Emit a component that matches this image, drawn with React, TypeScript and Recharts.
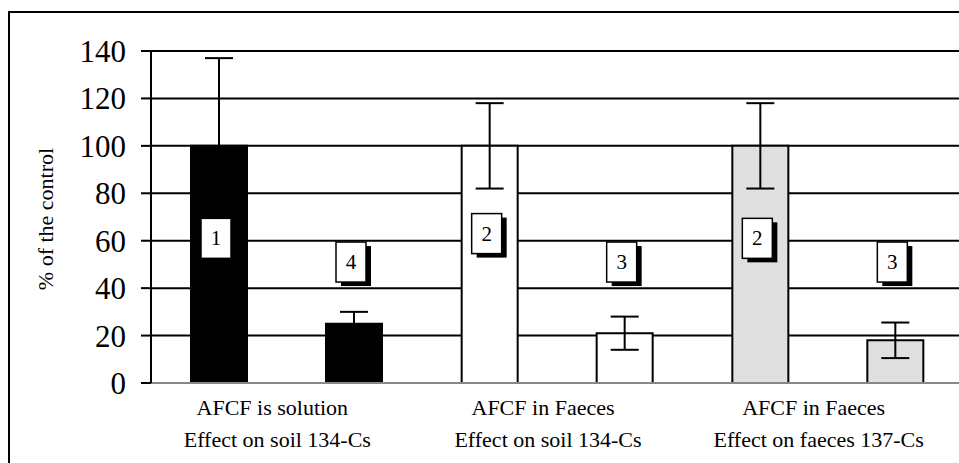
import { BarChart, Bar, XAxis, YAxis, CartesianGrid, ErrorBar, LabelList, Cell, Label } from 'recharts'

// group captions, two lines each
const categoryTop = ['AFCF is solution', 'AFCF in Faeces', 'AFCF in Faeces']
const categoryBottom = ['Effect on soil 134-Cs', 'Effect on soil 134-Cs', 'Effect on faeces 137-Cs']

// control (100 %) and treated values with their errors
const firstValues = [100, 100, 100]
const firstErrors = [37, 18, 18]
const secondValues = [25, 21, 18]
const secondErrors = [5, 7, 7.5]

// numbered boxes and the value level they sit at
const firstMarks = ['1', '2', '2']
const secondMarks = ['4', '3', '3']
const firstMarkAt = [61, 63, 61]
const secondMarkAt = [51, 51, 51]

const groupFills = ['#000000', '#ffffff', '#e0e0e0']
const yTicks = [0, 20, 40, 60, 80, 100, 120, 140]

const data = categoryTop.map((top, i) => ({
  name: `${top} / ${categoryBottom[i]}`,
  first: firstValues[i],
  firstErr: firstErrors[i],
  second: secondValues[i],
  secondErr: secondErrors[i],
}))

const serif = "'Liberation Serif', 'Times New Roman', serif"

function markLabel(marks: string[], at: number[], values: number[]) {
  return (props: any) => {
    const vb = props.viewBox ?? props
    const { x, y, width, height } = vb
    const i = props.index
    const cy = y + height - (at[i] * height) / values[i]
    const cx = x + width / 2 - 3
    return (
      <g>
        <rect x={cx - 15 + 5} y={cy - 20 + 4} width={30} height={40} fill="#000" />
        <rect x={cx - 15} y={cy - 20} width={30} height={40} fill="#fff" stroke="#000" strokeWidth={1.5} />
        <text x={cx} y={cy + 7} textAnchor="middle" fontFamily={serif} fontSize={21} fill="#000">
          {marks[i]}
        </text>
      </g>
    )
  }
}

function GroupTick(props: any) {
  const { x, y, index } = props
  return (
    <g>
      <text x={x - 14} y={y + 32} textAnchor="middle" fontFamily={serif} fontSize={22} fill="#000">
        {categoryTop[index]}
      </text>
      <text x={x - 9} y={y + 64} textAnchor="middle" fontFamily={serif} fontSize={22} fill="#000">
        {categoryBottom[index]}
      </text>
    </g>
  )
}

export default function App() {
  return (
    <div style={{ position: 'absolute', left: 0, top: 0, width: 959, height: 463, overflow: 'hidden', background: '#fff' }}>
      <div
        style={{
          position: 'absolute',
          left: 8,
          top: 11,
          width: 1000,
          height: 1000,
          border: '2px solid #000',
        }}
      />
      <div style={{ position: 'absolute', left: 0, top: 0 }}>
        <BarChart
          width={975}
          height={463}
          data={data}
          margin={{ top: 51, right: 12, bottom: 0, left: 0 }}
          barSize={56}
          barGap={79}
        >
          <CartesianGrid vertical={false} stroke="#000" strokeWidth={2} />
          <XAxis
            dataKey="name"
            height={80}
            tickSize={0}
            tickMargin={0}
            tickLine={false}
            axisLine={{ stroke: '#888', strokeWidth: 2 }}
            tick={<GroupTick />}
            interval={0}
          />
          <YAxis
            width={151}
            domain={[0, 140]}
            ticks={yTicks}
            interval={0}
            tickSize={10}
            tickMargin={15}
            axisLine={{ stroke: '#000', strokeWidth: 2 }}
            tickLine={{ stroke: '#000', strokeWidth: 2 }}
            tick={{ fontFamily: serif, fontSize: 31, fill: '#000' }}
          >
            <Label
              content={() => (
                <text
                  transform="translate(53,219) rotate(-90)"
                  textAnchor="middle"
                  fontFamily={serif}
                  fontSize={22}
                  fill="#000"
                >
                  % of the control
                </text>
              )}
            />
          </YAxis>
          <Bar dataKey="first" stroke="#000" strokeWidth={2} isAnimationActive={false}>
            {data.map((_, i) => (
              <Cell key={i} fill={groupFills[i]} />
            ))}
            <ErrorBar dataKey="firstErr" width={14} stroke="#000" strokeWidth={2} direction="y" />
            <LabelList dataKey="first" content={markLabel(firstMarks, firstMarkAt, firstValues)} />
          </Bar>
          <Bar dataKey="second" stroke="#000" strokeWidth={2} isAnimationActive={false}>
            {data.map((_, i) => (
              <Cell key={i} fill={groupFills[i]} />
            ))}
            <ErrorBar dataKey="secondErr" width={14} stroke="#000" strokeWidth={2} direction="y" />
            <LabelList dataKey="second" content={markLabel(secondMarks, secondMarkAt, secondValues)} />
          </Bar>
        </BarChart>
      </div>
    </div>
  )
}
